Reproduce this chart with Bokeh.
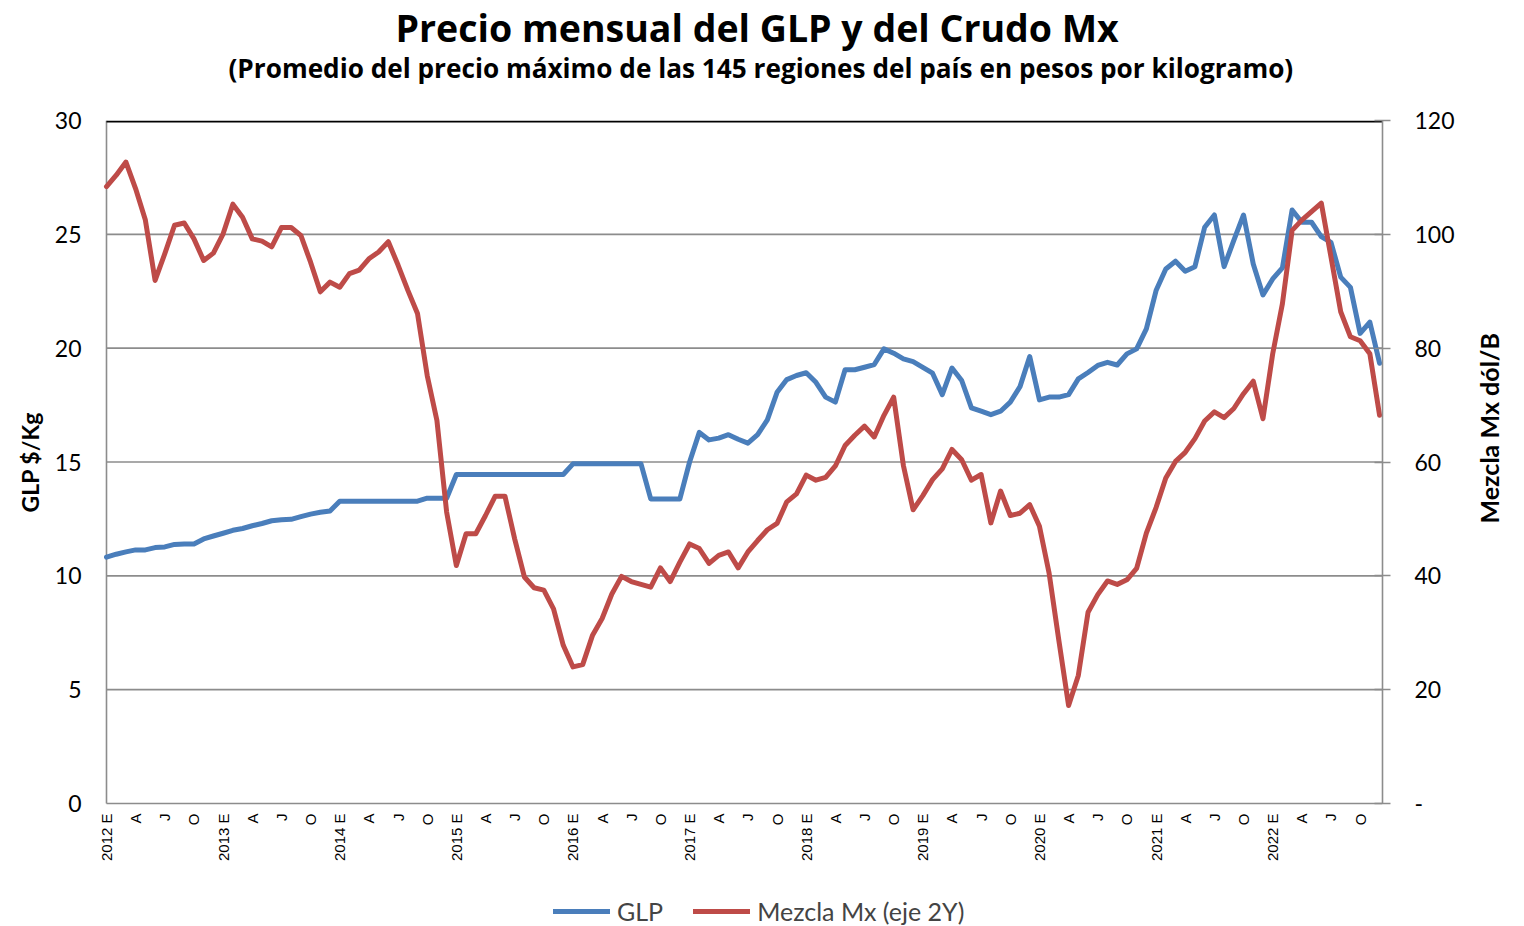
from bokeh.plotting import figure
from bokeh.models import (Range1d, LinearAxis, FixedTicker, Title, Legend, LegendItem)
from bokeh.core.properties import value
from bokeh.embed import file_html
from bokeh.resources import INLINE
import math

years = list(range(2012, 2023))
month_marks = ["E", "A", "J", "O"]

glp = [10.82, 10.95, 11.05, 11.14, 11.14, 11.24, 11.27, 11.38, 11.40, 11.40, 11.62, 11.75,
       11.87, 12.00, 12.08, 12.20, 12.30, 12.42, 12.46, 12.48, 12.60, 12.71, 12.79, 12.85,
       13.28, 13.28, 13.28, 13.28, 13.28, 13.28, 13.28, 13.28, 13.28, 13.41, 13.41, 13.41,
       14.45, 14.45, 14.45, 14.45, 14.45, 14.45, 14.45, 14.45, 14.45, 14.45, 14.45, 14.45,
       14.92, 14.92, 14.92, 14.92, 14.92, 14.92, 14.92, 14.92, 13.38, 13.38, 13.38, 13.38,
       15.00, 16.30, 15.97, 16.05, 16.20, 16.00, 15.83, 16.20, 16.85, 18.06, 18.62, 18.80,
       18.92, 18.50, 17.85, 17.63, 19.05, 19.05, 19.16, 19.28, 19.97, 19.78, 19.53, 19.41,
       19.16, 18.90, 17.96, 19.13, 18.58, 17.38, 17.23, 17.08, 17.23, 17.63, 18.31, 19.63,
       17.73, 17.85, 17.85, 17.96, 18.65, 18.93, 19.24, 19.38, 19.26, 19.75, 19.97, 20.85,
       22.53, 23.48, 23.82, 23.38, 23.58, 25.31, 25.85, 23.58, 24.73, 25.85, 23.70, 22.34,
       23.04, 23.53, 26.07, 25.53, 25.53, 24.90, 24.65, 23.12, 22.67, 20.65, 21.14, 19.34]

mezcla = [108.4, 110.4, 112.7, 108.0, 102.5, 91.9, 96.6, 101.6, 102.0, 99.2, 95.4, 96.7,
          100.1, 105.3, 103.0, 99.2, 98.8, 97.8, 101.2, 101.2, 99.8, 95.1, 89.9, 91.6,
          90.7, 93.1, 93.7, 95.7, 96.9, 98.7, 94.6, 90.2, 86.1, 75.2, 67.3, 51.2,
          41.8, 47.4, 47.4, 50.6, 54.0, 54.0, 46.5, 39.8, 37.9, 37.5, 34.2, 27.8,
          24.0, 24.4, 29.5, 32.5, 36.8, 39.9, 39.0, 38.5, 38.0, 41.4, 39.0, 42.4,
          45.6, 44.8, 42.2, 43.6, 44.2, 41.4, 44.2, 46.2, 48.1, 49.2, 53.0, 54.4,
          57.7, 56.8, 57.3, 59.3, 62.9, 64.7, 66.3, 64.4, 68.2, 71.4, 59.4, 51.6,
          54.1, 56.9, 58.8, 62.2, 60.4, 56.8, 57.8, 49.3, 54.9, 50.6, 51.0, 52.5,
          48.7, 40.4, 28.6, 17.2, 22.5, 33.6, 36.7, 39.1, 38.5, 39.3, 41.3, 47.5,
          52.0, 57.2, 60.1, 61.7, 64.1, 67.2, 68.8, 67.8, 69.4, 72.0, 74.2, 67.6,
          79.0, 87.8, 100.7, 102.5, 104.0, 105.5, 96.0, 86.4, 82.0, 81.3, 79.0, 68.2]

glp_ticks = [0, 5, 10, 15, 20, 25, 30]
mezcla_ticks = [0, 20, 40, 60, 80, 100, 120]

x = list(range(len(glp)))
n_last = 131.3

tick_pos = []
tick_txt = []
for yi, yr in enumerate(years):
    for mi, m in enumerate(month_marks):
        tick_pos.append(yi * 12 + mi * 3)
        tick_txt.append(f"{yr} {m}" if mi == 0 else m)

BLUE = "#4A7EBB"
RED = "#BE4B48"
GRAY = "#8C8C8C"
FONT = "Lato"
TFONT = "Open Sans"

PX_X = 1276 / n_last          # px per month
PX_Y = 683 / 30               # px per GLP unit
X0 = -16 / PX_X               # frame starts 16 px left of first month
Y0 = -123 / PX_Y              # frame ends 123 px below value 0

p = figure(frame_width=1292, frame_height=806, output_backend="svg", toolbar_location=None,
           x_range=Range1d(X0, n_last), y_range=Range1d(Y0, 30),
           min_border_left=90, min_border_right=142, min_border_top=120, min_border_bottom=0)
p.title_location = None
p.outline_line_color = None
p.background_fill_color = "white"
p.border_fill_color = "white"
p.extra_y_ranges = {"mx": Range1d(Y0 * 4, 120), "lab": Range1d(0, 806)}
p.below = []
p.xgrid.visible = False
p.ygrid.visible = False

# grid lines, axis lines and top border of the plot area
inner = glp_ticks[1:-1]
p.segment(x0=[0] * len(inner), y0=inner, x1=[n_last] * len(inner), y1=inner,
          line_color=GRAY, line_width=1.6)
p.segment(x0=[0], y0=[0], x1=[n_last], y1=[0], line_color=GRAY, line_width=1.6)
p.segment(x0=[0], y0=[0], x1=[0], y1=[30], line_color=GRAY, line_width=1.6)
p.segment(x0=[0], y0=[30 - 1 / PX_Y], x1=[n_last], y1=[30 - 1 / PX_Y],
          line_color="black", line_width=2)

r1 = p.line(x, glp, line_color=BLUE, line_width=5, line_join="round", line_cap="round")
r2 = p.line(x, mezcla, line_color=RED, line_width=5, line_join="round", line_cap="round",
            y_range_name="mx")

# category labels under value 0
p.text(x=tick_pos, y=[0] * len(tick_pos), text=tick_txt, angle=math.pi / 2,
       text_align="right", text_baseline="middle", y_offset=10,
       text_font=value("Liberation Sans"), text_font_size="15px", text_color="black")

# left axis
ya = p.yaxis[0]
ya.ticker = FixedTicker(ticks=glp_ticks)
ya.bounds = (0, 30)
ya.major_label_text_font = FONT
ya.major_label_text_font_size = "23px"
ya.major_label_text_color = "black"
ya.major_label_standoff = 9
ya.major_tick_in = 0
ya.major_tick_out = 0
ya.minor_tick_line_color = None
ya.axis_line_color = None

p.add_layout(Title(text="GLP $/Kg", align="left", offset=414, standoff=16,
                   text_font=FONT, text_font_style="bold", text_font_size="23px",
                   text_color="black"), "left")

# right axis
ra = LinearAxis(y_range_name="mx", ticker=FixedTicker(ticks=mezcla_ticks), bounds=(0, 120))
ra.major_label_overrides = {0: "-"}
ra.major_label_text_font = FONT
ra.major_label_text_font_size = "23px"
ra.major_label_text_color = "black"
ra.major_label_standoff = 24
ra.major_tick_in = 8
ra.major_tick_out = 8
ra.major_tick_line_color = GRAY
ra.major_tick_line_width = 1.6
ra.minor_tick_line_color = None
ra.axis_line_color = GRAY
ra.axis_line_width = 1.6
p.add_layout(ra, "right")

# right axis title
la = LinearAxis(y_range_name="lab", ticker=FixedTicker(ticks=[]))
la.axis_line_color = None
la.major_tick_in = 0
la.major_tick_out = 0
la.minor_tick_line_color = None
la.major_label_text_font_size = "0px"
la.axis_label = "Mezcla Mx dól/B"
la.axis_label_text_font = FONT
la.axis_label_text_font_style = "bold"
la.axis_label_text_font_size = "25px"
la.axis_label_text_color = "black"
la.axis_label_standoff = 31
try:
    la.axis_label_orientation = math.pi / 2
except Exception:
    pass
p.add_layout(la, "right")

# spacer above the plot area
ta = LinearAxis(ticker=FixedTicker(ticks=[]))
ta.major_label_text_font_size = "0px"
ta.major_tick_in = 0
ta.major_tick_out = 0
ta.minor_tick_line_color = None
ta.axis_line_color = None
p.add_layout(ta, "above")

# titles (first added sits closest to the frame)
p.add_layout(Title(text="(Promedio del precio máximo de las 145 regiones del país  en pesos por kilogramo)",
                   align="left", offset=138, text_font=TFONT, text_font_style="bold",
                   text_font_size="26.2px", text_color="black", standoff=70), "above")
p.add_layout(Title(text="Precio mensual del GLP y del Crudo Mx",
                   align="left", offset=305, text_font=TFONT, text_font_style="bold",
                   text_font_size="37.5px", text_color="black", standoff=-80), "above")

legend = Legend(items=[LegendItem(label="GLP", renderers=[r1]),
                       LegendItem(label="Mezcla Mx (eje 2Y)", renderers=[r2])],
                orientation="horizontal", location=(463, 0),
                label_text_font=FONT, label_text_font_size="25px",
                glyph_width=57, glyph_height=20, label_standoff=7, spacing=30,
                border_line_color=None, background_fill_alpha=0, padding=0, margin=0)
p.add_layout(legend)

open("out.html", "w").write(file_html(p, INLINE))
